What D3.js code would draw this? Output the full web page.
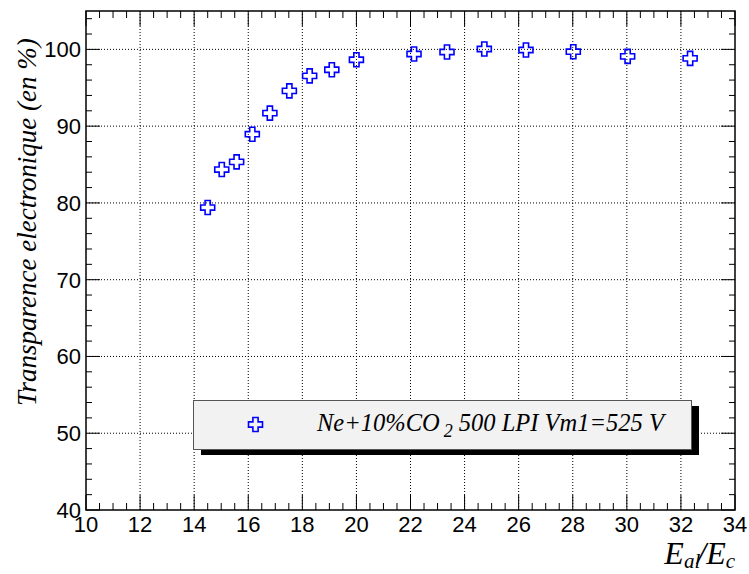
<!DOCTYPE html>
<html><head><meta charset="utf-8">
<script src="https://cdn.jsdelivr.net/npm/d3@7"></script>
<style>body{margin:0;background:#fff}svg{display:block}</style>
</head><body>
<script>
const xValues = [14.5,15.02,15.57,16.15,16.8,17.52,18.27,19.09,20.0,22.13,23.35,24.73,26.27,28.02,30.03,32.34];
const yValues = [79.4,84.35,85.35,88.95,91.7,94.6,96.55,97.35,98.65,99.4,99.66,100.05,99.92,99.7,99.09,98.83];
const xTicks = [10,12,14,16,18,20,22,24,26,28,30,32,34];
const yTicks = [40,50,60,70,80,90,100];
const legendLabel = ["Ne+10%CO", "2", " 500 LPI Vm1=525 V"];
const yTitle = "Transparence electronique (en %)";

const W = 749, H = 574;
const L = 86, R = 735, T = 11, B = 510;
const svg = d3.select("body").append("svg").attr("width", W).attr("height", H);
const x = d3.scaleLinear().domain([10,34]).range([L,R]);
const y = d3.scaleLinear().domain([40,105]).range([B,T]);

// grid
const g = svg.append("g");
g.selectAll(".vg").data(xTicks.slice(1,-1)).join("line")
  .attr("x1", d=>x(d)).attr("x2", d=>x(d)).attr("y1", T).attr("y2", B)
  .attr("stroke","#000").attr("stroke-width",1).attr("stroke-dasharray","1,2");
g.selectAll(".hg").data(yTicks.slice(1)).join("line")
  .attr("y1", d=>y(d)).attr("y2", d=>y(d)).attr("x1", L).attr("x2", R)
  .attr("stroke","#000").attr("stroke-width",1).attr("stroke-dasharray","1,2");

// ticks
const xMinor = d3.range(10, 34.001, 0.5);
const yMinor = d3.range(40, 105.001, 2);
function isMajX(d){return Math.abs(d/2 - Math.round(d/2))<1e-6;}
function isMajY(d){return Math.abs(d/10 - Math.round(d/10))<1e-6;}
const tk = svg.append("g").attr("stroke","#000").attr("stroke-width",1);
xMinor.forEach(d=>{
  const len = isMajX(d)?15:7;
  tk.append("line").attr("x1",x(d)).attr("x2",x(d)).attr("y1",B).attr("y2",B-len);
  tk.append("line").attr("x1",x(d)).attr("x2",x(d)).attr("y1",T).attr("y2",T+len);
});
yMinor.forEach(d=>{
  const len = isMajY(d)?14:6;
  tk.append("line").attr("y1",y(d)).attr("y2",y(d)).attr("x1",L).attr("x2",L+len);
  tk.append("line").attr("y1",y(d)).attr("y2",y(d)).attr("x1",R).attr("x2",R-len);
});

// frame
svg.append("rect").attr("x",L).attr("y",T).attr("width",R-L).attr("height",B-T)
  .attr("fill","none").attr("stroke","#000").attr("stroke-width",1.5);

// tick labels
const lab = svg.append("g").attr("font-family","'Liberation Sans', Arial, sans-serif").attr("font-size",22).attr("fill","#000");
lab.selectAll(".xl").data(xTicks).join("text")
  .attr("x", d=>x(d)).attr("y", 532).attr("text-anchor","middle").text(d=>d);
lab.selectAll(".yl").data(yTicks).join("text")
  .attr("x", 81).attr("y", d=>y(d)+8).attr("text-anchor","end").text(d=>d);

// axis titles
svg.append("text").attr("transform","translate(36,406) rotate(-90)")
  .attr("font-family","'Liberation Serif', 'Times New Roman', serif").attr("font-style","italic")
  .attr("font-size",27).attr("text-anchor","start").text(yTitle);

const xt = svg.append("text").attr("x",735).attr("y",564).attr("text-anchor","end")
  .attr("font-family","'Liberation Serif', 'Times New Roman', serif").attr("font-style","italic").attr("font-size",32);
xt.append("tspan").text("E");
xt.append("tspan").attr("font-size",21).attr("dy",4).text("al");
xt.append("tspan").attr("dy",-4).attr("dx",-3).text("/E");
xt.append("tspan").attr("font-size",21).attr("dy",4).text("c");

// markers
const a = 2.6, s = 7;
const cross = `M${-a},${-s}H${a}V${-a}H${s}V${a}H${a}V${s}H${-a}V${a}H${-s}V${-a}H${-a}Z`;
svg.append("g").selectAll("path").data(xValues.map((d,i)=>[d,yValues[i]])).join("path")
  .attr("d", cross).attr("transform", d=>`translate(${x(d[0])},${y(d[1])})`)
  .attr("fill","none").attr("stroke","#0000ff").attr("stroke-width",1.6);

// legend
const lg = svg.append("g");
lg.append("rect").attr("x",201).attr("y",406).attr("width",498).attr("height",49).attr("fill","#000");
lg.append("rect").attr("x",193.5).attr("y",400.5).attr("width",498).attr("height",49)
  .attr("fill","#f2f2f2").attr("stroke","#555").attr("stroke-width",1);
lg.append("path").attr("d",cross).attr("transform","translate(255.5,424.5)")
  .attr("fill","none").attr("stroke","#0000ff").attr("stroke-width",1.6);
const lt = lg.append("text").attr("x",317).attr("y",431)
  .attr("font-family","'Liberation Serif', 'Times New Roman', serif").attr("font-style","italic").attr("font-size",24.5);
lt.append("tspan").text(legendLabel[0]);
lt.append("tspan").attr("font-size",18).attr("dy",6).attr("dx",4).text(legendLabel[1]);
lt.append("tspan").attr("dy",-6).text(legendLabel[2]);
</script>
</body></html>
